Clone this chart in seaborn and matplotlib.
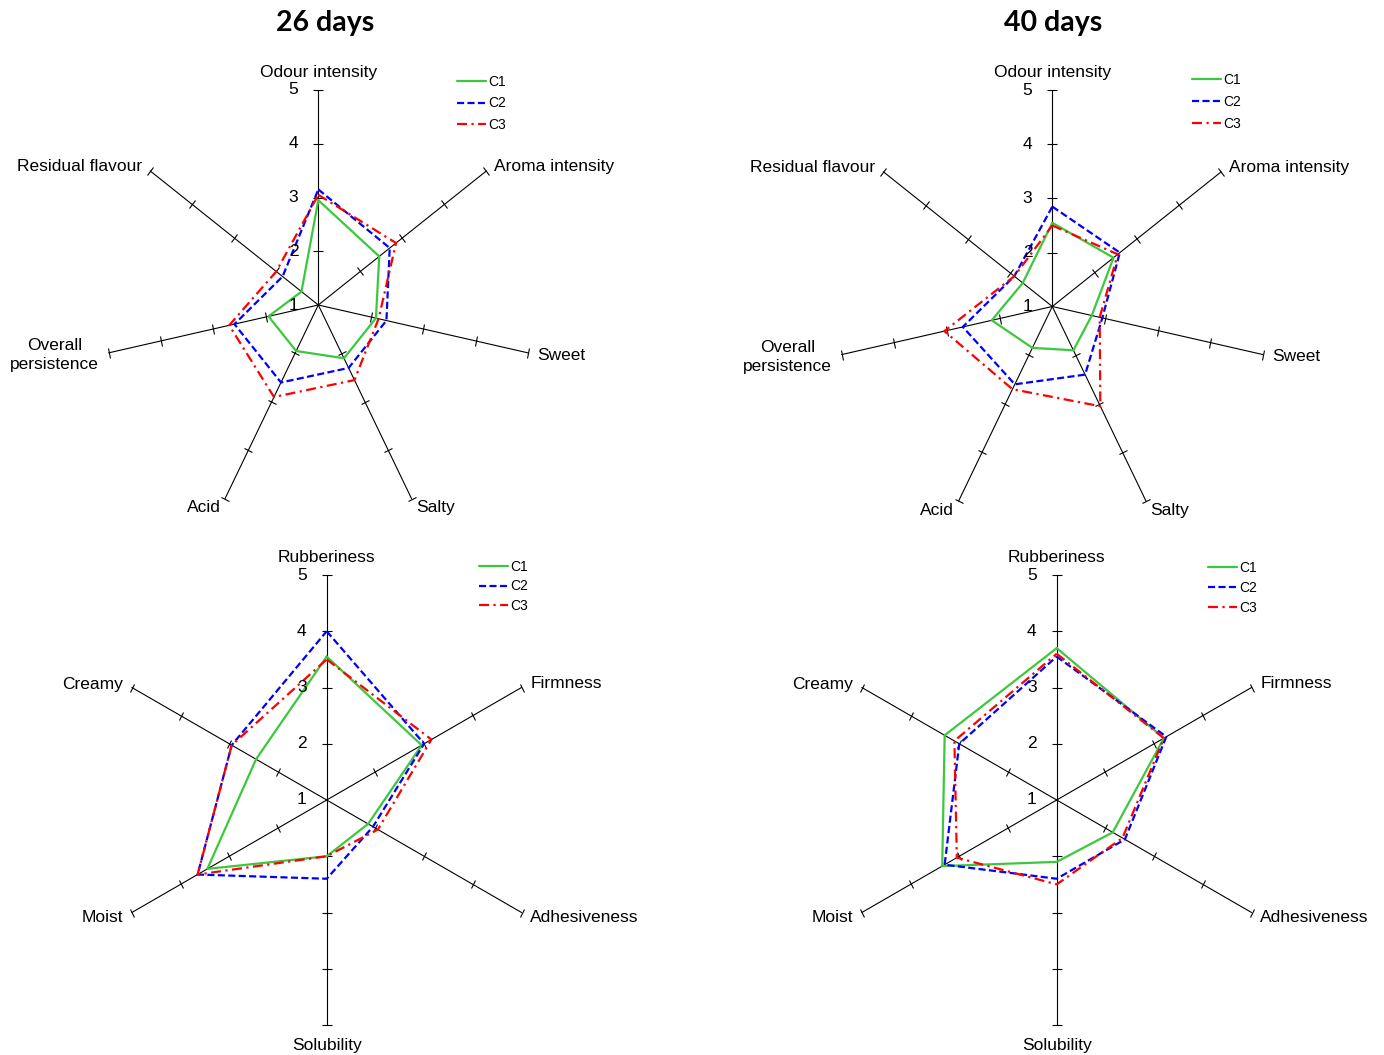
"""Radar charts of sensory scores for three cheeses at 26 and 40 days."""
import matplotlib

matplotlib.use("Agg")
import matplotlib.pyplot as plt
import numpy as np
import pandas as pd
import seaborn as sns
from matplotlib.markers import MarkerStyle
from matplotlib.transforms import Affine2D

# attributes, clockwise from the top
flavour_attrs = ["Odour intensity", "Aroma intensity", "Sweet", "Salty", "Acid",
                 "Overall\npersistence", "Residual flavour"]
texture_attrs = ["Rubberiness", "Firmness", "Adhesiveness", "Solubility", "Moist", "Creamy"]
samples = ["C1", "C2", "C3"]

# flavour scores, 26 days
flav26_c1 = [2.95, 2.45, 2.10, 2.10, 1.95, 1.95, 1.40]
flav26_c2 = [3.15, 2.70, 2.30, 2.30, 2.60, 2.60, 1.85]
flav26_c3 = [3.05, 2.85, 2.15, 2.55, 2.90, 2.70, 2.00]
# flavour scores, 40 days
flav40_c1 = [2.55, 2.45, 1.75, 1.90, 1.85, 2.15, 1.70]
flav40_c2 = [2.85, 2.60, 1.95, 2.40, 2.60, 2.70, 1.90]
flav40_c3 = [2.50, 2.55, 1.90, 3.05, 2.70, 3.05, 1.90]
# texture scores, 26 days
tex26_c1 = [3.55, 2.95, 1.85, 2.00, 3.45, 2.45]
tex26_c2 = [4.00, 3.00, 1.95, 2.40, 3.65, 2.95]
tex26_c3 = [3.50, 3.15, 2.05, 2.00, 3.65, 2.95]
# texture scores, 40 days
tex40_c1 = [3.70, 3.20, 2.15, 2.10, 3.35, 3.30]
tex40_c2 = [3.55, 3.25, 2.40, 2.40, 3.30, 3.00]
tex40_c3 = [3.60, 3.20, 2.35, 2.50, 3.05, 3.10]

scale_ticks = [1, 2, 3, 4, 5]
titles = ["26 days", "40 days"]

colors = {"C1": "#3cc83c", "C2": "#0000ff", "C3": "#ff0000"}
dashes = {"C1": "", "C2": (3.2, 1.5), "C3": (4.5, 2.0, 1.0, 2.0)}

sns.set_theme(style="white")
plt.rcParams["font.family"] = ["Liberation Sans", "DejaVu Sans"]
plt.rcParams["text.color"] = "black"

W, H = 1384, 1055
fig = plt.figure(figsize=(W / 100, H / 100), dpi=100)


def radar(cx, cy, R, attrs, series, legend_xy, legend_gap):
    ax = fig.add_axes([(cx - R) / W, (H - cy - R) / H, 2 * R / W, 2 * R / H],
                      projection="polar")
    ax.set_theta_zero_location("N")
    ax.set_theta_direction(-1)
    ax.set_facecolor("none")
    n = len(attrs)
    angles = np.arange(n) * 2 * np.pi / n

    # spokes with a small cross tick at every unit
    for a in angles:
        ax.plot([a, a], [scale_ticks[0], scale_ticks[-1]], color="black", lw=0.8,
                clip_on=False, zorder=1)
        phi = 90 - np.degrees(a)
        mk = MarkerStyle("|", transform=Affine2D().rotate_deg(phi))
        ax.plot([a] * (len(scale_ticks) - 1), scale_ticks[1:], ls="none", marker=mk,
                ms=7, mew=0.8, color="black", clip_on=False, zorder=1)

    rows = []
    for name, vals in zip(samples, series):
        closed = list(vals) + [vals[0]]
        ang = list(angles) + [2 * np.pi]
        for t, v in zip(ang, closed):
            rows.append({"angle": t, "score": v, "sample": name})
    df = pd.DataFrame(rows)

    n_before = len(ax.lines)
    sns.lineplot(data=df, x="angle", y="score", hue="sample", style="sample",
                 hue_order=samples, style_order=samples, palette=colors,
                 dashes=dashes, sort=False, estimator=None, units="sample",
                 linewidth=1.6, legend=False, ax=ax, zorder=3)
    handles = ax.lines[n_before:]

    ax.set_ylim(scale_ticks[0], scale_ticks[-1])
    ax.set_xticks([])
    ax.set_yticks([])
    ax.grid(False)
    ax.spines["polar"].set_visible(False)
    ax.set_xlabel("")
    ax.set_ylabel("")

    # scale numbers beside the top spoke
    for t in scale_ticks:
        ax.annotate(str(t), (0, t), xytext=(-20, 0), textcoords="offset pixels",
                    ha="right", va="center", fontsize=12.5, color="black",
                    annotation_clip=False)

    # attribute names beyond the spoke ends
    for a, label in zip(angles, attrs):
        s, c = np.sin(a), np.cos(a)
        if s > 0.1:
            ha = "left"
        elif s < -0.1:
            ha = "right"
        else:
            ha = "center"
        if abs(s) < 0.1:
            va = "bottom" if c > 0 else "top"
            off = (0, 10) if c > 0 else (0, -13)
        else:
            va = "center"
            off = (10 * s, (7 if c > 0 else 10) * c)
        ax.annotate(label, (a, scale_ticks[-1]), xytext=off,
                    textcoords="offset pixels", ha=ha, va=va, fontsize=12.5,
                    color="black", multialignment="center", linespacing=1.35,
                    annotation_clip=False)

    leg = ax.legend(handles, samples, loc="upper left",
                    bbox_to_anchor=(legend_xy[0] / W, 1 - legend_xy[1] / H),
                    bbox_transform=fig.transFigure, frameon=False, fontsize=10,
                    handlelength=2.1, handletextpad=0.15, labelspacing=legend_gap,
                    borderpad=0, borderaxespad=0)
    for txt in leg.get_texts():
        txt.set_color("black")
    return ax


radar(318.3, 305, 215, flavour_attrs, [flav26_c1, flav26_c2, flav26_c3], (457, 74.5), 0.57)
radar(1052.3, 306.5, 216, flavour_attrs, [flav40_c1, flav40_c2, flav40_c3], (1192, 73), 0.57)
radar(326.7, 800, 225, texture_attrs, [tex26_c1, tex26_c2, tex26_c3], (479, 560), 0.39)
radar(1056.7, 800, 225, texture_attrs, [tex40_c1, tex40_c2, tex40_c3], (1208, 561), 0.42)

for x, title in zip([325, 1053], titles):
    fig.text(x / W, 1 - 23 / H, title, ha="center", va="center", fontsize=20.5,
             fontweight="bold", color="black", family=["Lato", "DejaVu Sans"])

fig.savefig("out.png", dpi=100, facecolor="white")
